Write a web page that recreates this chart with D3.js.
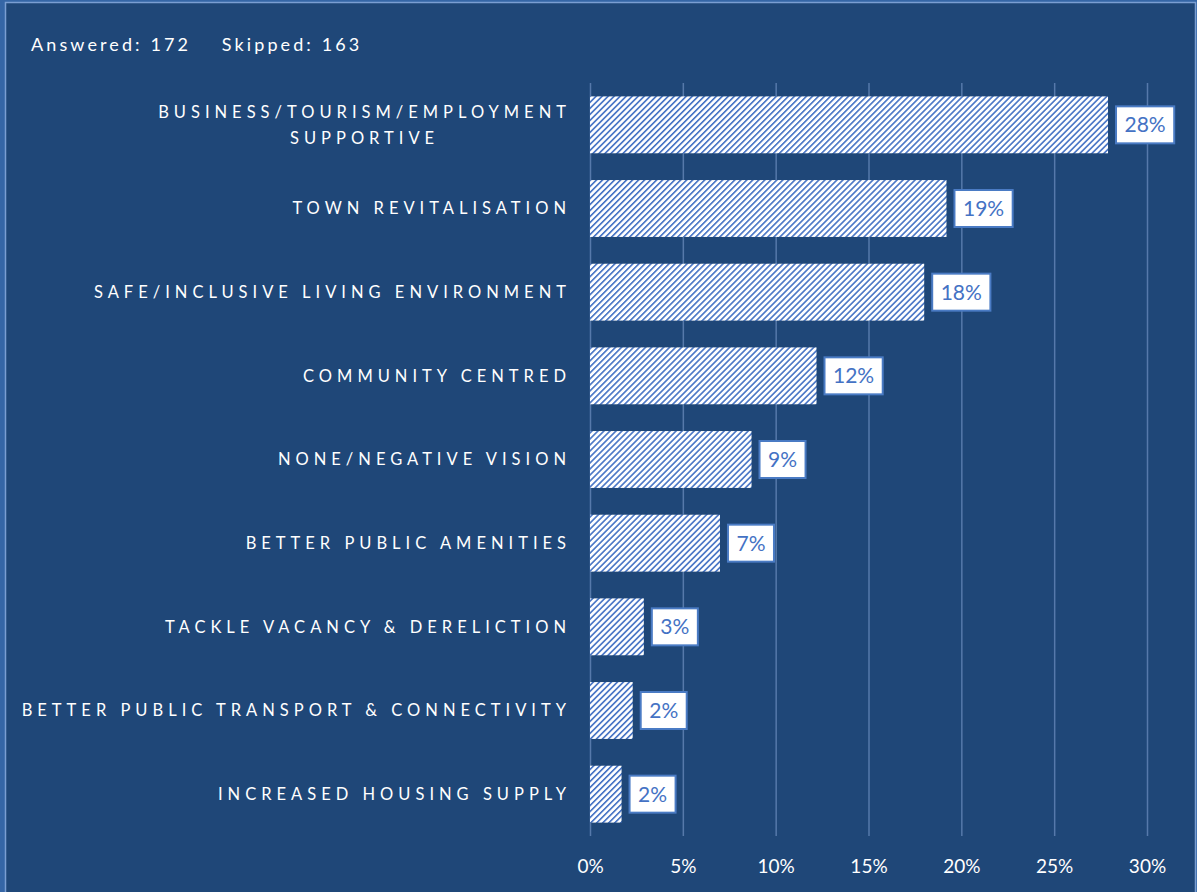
<!DOCTYPE html>
<html>
<head>
<meta charset="utf-8">
<script src="https://cdn.jsdelivr.net/npm/d3@7"></script>
<style>
  html, body { margin: 0; padding: 0; background: #2f5b98; }
  svg { display: block; }
</style>
</head>
<body>
<svg id="chart" width="1197" height="892"></svg>
<script>
// Survey responses: share of answers mentioning each theme
const categories = [
  "BUSINESS/TOURISM/EMPLOYMENT\nSUPPORTIVE",
  "TOWN REVITALISATION",
  "SAFE/INCLUSIVE LIVING ENVIRONMENT",
  "COMMUNITY CENTRED",
  "NONE/NEGATIVE VISION",
  "BETTER PUBLIC AMENITIES",
  "TACKLE VACANCY & DERELICTION",
  "BETTER PUBLIC TRANSPORT & CONNECTIVITY",
  "INCREASED HOUSING SUPPLY"
];
const shares = [0.279, 0.192, 0.180, 0.122, 0.087, 0.070, 0.029, 0.023, 0.017];
const xTicks = [0, 0.05, 0.10, 0.15, 0.20, 0.25, 0.30];
const answered = 172;
const skipped = 163;

const W = 1197, H = 892;
const BG = "#1f4778";
const ACCENT = "#4472c4";

const svg = d3.select("#chart");

// panel
svg.append("rect").attr("x", 0).attr("y", 0).attr("width", W).attr("height", H).attr("fill", "#3566a6");
svg.append("rect")
  .attr("x", 5.5).attr("y", 2.5).attr("width", W - 7).attr("height", H + 10)
  .attr("fill", BG).attr("stroke", "#7a9ed2").attr("stroke-width", 1.5);

// hatch fill for bars
const P = 4.25;
const defs = svg.append("defs");
const pat = defs.append("pattern")
  .attr("id", "hatch").attr("patternUnits", "userSpaceOnUse")
  .attr("width", P).attr("height", P)
  .attr("patternTransform", "rotate(45)");
pat.append("rect").attr("width", P).attr("height", P).attr("fill", "#ffffff");
pat.append("line").attr("x1", 0.8).attr("y1", 0).attr("x2", 0.8).attr("y2", P)
  .attr("stroke", ACCENT).attr("stroke-width", 1.6);

const plot = { left: 590, right: 1147, top: 83, bottom: 836 };

const x = d3.scaleLinear().domain([0, 0.30]).range([plot.left, plot.right]);
const y = d3.scaleBand().domain(categories).range([plot.top, plot.bottom])
  .paddingInner(0.32).paddingOuter(0.16);

// vertical gridlines
const grid = svg.append("g")
  .attr("transform", `translate(0,${plot.bottom})`)
  .call(d3.axisBottom(x).tickValues(xTicks).tickSize(-(plot.bottom - plot.top)).tickFormat(""));
grid.select(".domain").remove();
grid.selectAll(".tick line").attr("stroke", "#5679aa").attr("stroke-width", 1.5);

// tick labels
const axis = svg.append("g")
  .attr("transform", `translate(0,${plot.bottom + 15})`)
  .call(d3.axisBottom(x).tickValues(xTicks).tickSize(0).tickFormat(d3.format(".0%")));
axis.select(".domain").remove();
axis.selectAll(".tick text")
  .attr("fill", "#ffffff")
  .attr("font-family", "Lato, 'Open Sans', sans-serif")
  .attr("font-size", 19)
  .attr("dy", "1em");

// bars
svg.append("g").selectAll("rect")
  .data(categories)
  .join("rect")
  .attr("x", x(0))
  .attr("y", d => y(d))
  .attr("width", (d, i) => x(shares[i]) - x(0))
  .attr("height", y.bandwidth())
  .attr("fill", "url(#hatch)");

// value labels in boxes
const fmt = d3.format(".0%");
const vl = svg.append("g").selectAll("g")
  .data(categories)
  .join("g");
vl.each(function (d, i) {
  const g = d3.select(this);
  const cy = y(d) + y.bandwidth() / 2;
  const t = g.append("text")
    .attr("x", x(shares[i]) + 8 + 8.5)
    .attr("y", cy)
    .attr("dy", "0.35em")
    .attr("fill", ACCENT)
    .attr("font-family", "Lato, 'Open Sans', sans-serif")
    .attr("font-size", 21)
    .text(fmt(shares[i]));
  const w = t.node().getComputedTextLength();
  g.insert("rect", "text")
    .attr("x", x(shares[i]) + 8)
    .attr("y", cy - 18.5)
    .attr("width", w + 17)
    .attr("height", 37)
    .attr("fill", "#ffffff")
    .attr("stroke", "#4a7bc4")
    .attr("stroke-width", 2);
});

// category labels
const LS = 5.0;
const labelRight = 567 + LS - 1;
const cl = svg.append("g").selectAll("text")
  .data(categories)
  .join("text")
  .attr("fill", "#ffffff")
  .attr("font-family", "Lato, 'Open Sans', sans-serif")
  .attr("font-size", 16.5)
  .attr("letter-spacing", LS)
  .attr("text-anchor", "end");
cl.each(function (d) {
  const t = d3.select(this);
  const lines = d.split("\n");
  const cy = y(d) + y.bandwidth() / 2;
  const lh = 26;
  const spans = lines.map((ln, k) => t.append("tspan")
    .attr("x", labelRight)
    .attr("y", cy + (k - (lines.length - 1) / 2) * lh)
    .attr("dy", "0.36em")
    .text(ln));
  const widths = spans.map(s => s.node().getComputedTextLength());
  const maxW = d3.max(widths);
  spans.forEach((s, k) => s.attr("x", labelRight - (maxW - widths[k]) / 2));
});

// response counts
svg.append("text")
  .attr("x", 31).attr("y", 51)
  .attr("fill", "#ffffff")
  .attr("font-family", "Lato, 'Open Sans', sans-serif")
  .attr("font-size", 18)
  .attr("letter-spacing", 3.1)
  .attr("xml:space", "preserve")
  .text(`Answered: ${answered}    Skipped: ${skipped}`);
</script>
</body>
</html>
